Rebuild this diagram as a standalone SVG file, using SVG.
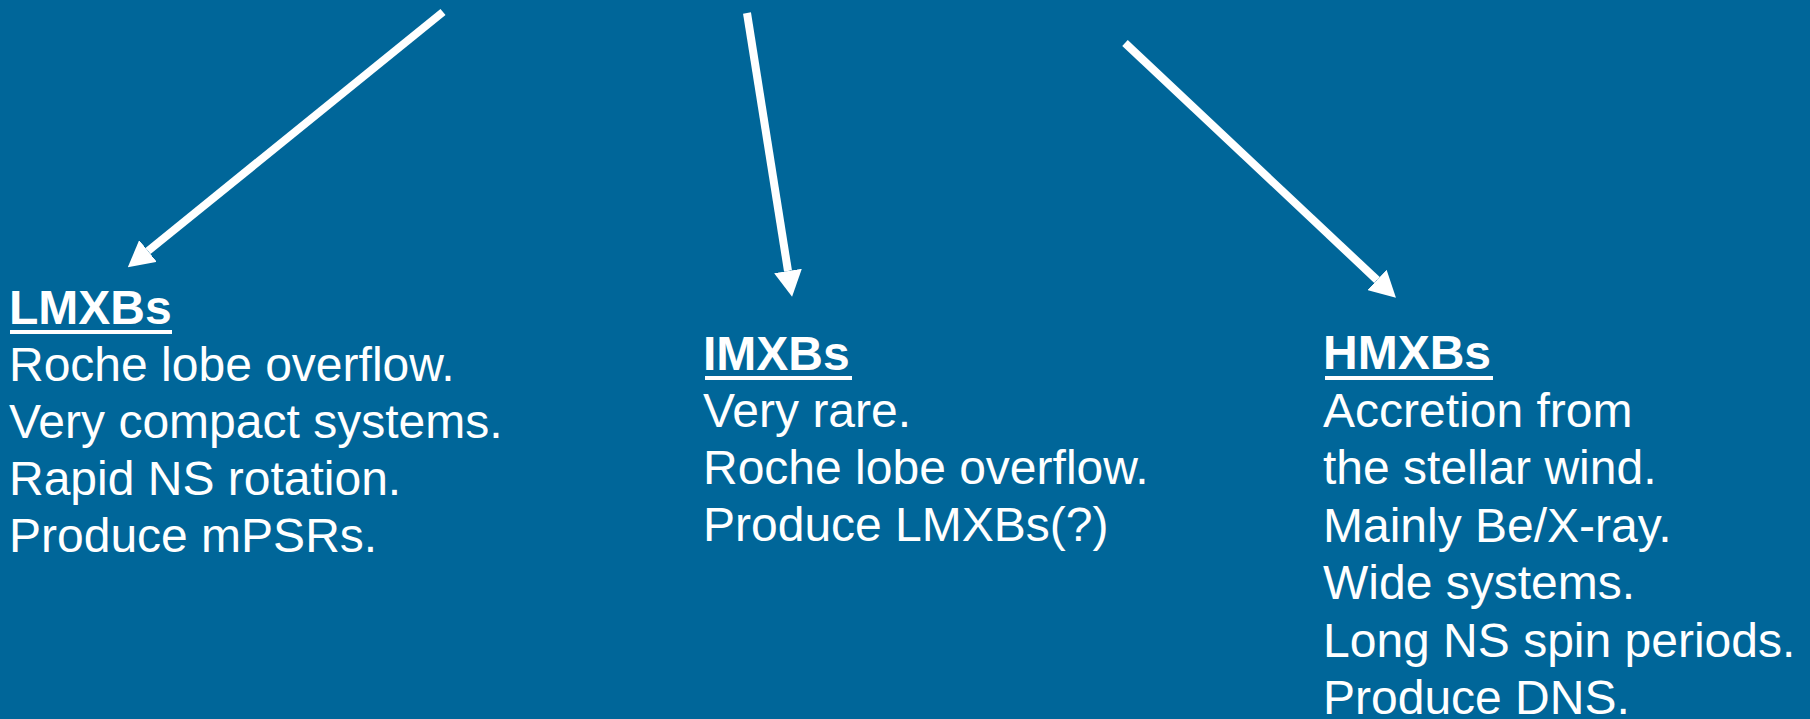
<svg xmlns="http://www.w3.org/2000/svg" width="1810" height="719" viewBox="0 0 1810 719">
  <style>
    .t { font-family: "Liberation Sans", Arial, sans-serif; font-size: 48px; fill: #ffffff; }
    .h { font-weight: bold; }
    .ul { fill: #ffffff; }
    .conn { stroke: #ffffff; stroke-width: 8; stroke-linecap: butt; fill: none; marker-end: url(#head); }
  </style>
  <defs>
    <marker id="head" markerUnits="userSpaceOnUse" markerWidth="26" markerHeight="28" viewBox="0 0 26 28" refX="0" refY="14" orient="auto">
      <path d="M0,0 L26,14 L0,28 Z" fill="#ffffff"/>
    </marker>
  </defs>
  <rect x="0" y="0" width="1810" height="719" fill="#006699"/>

  <g id="connectors">
    <line class="conn" x1="443" y1="12" x2="148" y2="251"/>
    <line class="conn" x1="747" y1="13" x2="788" y2="271"/>
    <line class="conn" x1="1125" y1="43" x2="1377" y2="280"/>
  </g>

  <g id="lmxb">
    <text class="t h" x="9" y="324">LMXBs</text>
    <rect class="ul" x="10" y="330" width="162" height="4"/>
    <text class="t" x="9" y="381">Roche lobe overflow.</text>
    <text class="t" x="9" y="438">Very compact systems.</text>
    <text class="t" x="9" y="495">Rapid NS rotation.</text>
    <text class="t" x="9" y="552">Produce mPSRs.</text>
  </g>

  <g id="imxb">
    <text class="t h" x="703" y="370">IMXBs</text>
    <rect class="ul" x="705" y="376" width="147" height="4"/>
    <text class="t" x="703" y="427">Very rare.</text>
    <text class="t" x="703" y="484">Roche lobe overflow.</text>
    <text class="t" x="703" y="541">Produce LMXBs(?)</text>
  </g>

  <g id="hmxb">
    <text class="t h" x="1323" y="369">HMXBs</text>
    <rect class="ul" x="1325" y="376" width="168" height="4"/>
    <text class="t" x="1323" y="427">Accretion from</text>
    <text class="t" x="1323" y="484">the stellar wind.</text>
    <text class="t" x="1323" y="542">Mainly Be/X-ray.</text>
    <text class="t" x="1323" y="599">Wide systems.</text>
    <text class="t" x="1323" y="657">Long NS spin periods.</text>
    <text class="t" x="1323" y="714">Produce DNS.</text>
  </g>
</svg>
